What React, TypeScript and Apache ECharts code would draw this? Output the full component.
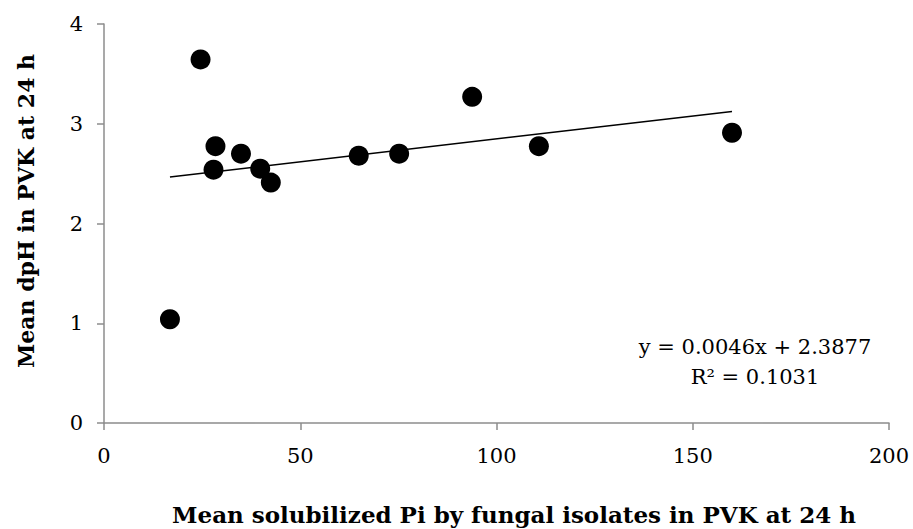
import React, { useEffect, useRef } from "react";
import * as echarts from "echarts";

const xValues = [16.8, 24.6, 27.9, 28.4, 34.9, 39.8, 42.5, 64.9, 75.2, 93.8, 110.8, 160.0];
const yValues = [1.04, 3.645, 2.54, 2.775, 2.70, 2.55, 2.41, 2.68, 2.70, 3.27, 2.775, 2.91];
const slope = 0.0046;
const intercept = 2.3877;
const equationText = "y = 0.0046x + 2.3877";
const r2Text = "R\u00B2 = 0.1031";
const xTitle = "Mean solubilized Pi by fungal isolates in PVK at 24 h";
const yTitle = "Mean dpH in PVK at 24 h";

const FONT = "'DejaVu Serif', 'Liberation Serif', serif";

export default function App() {
  const ref = useRef<HTMLDivElement>(null);
  useEffect(() => {
    if (!ref.current) return;
    const chart = echarts.init(ref.current, null, { renderer: "svg" });
    const points = xValues.map((x, i) => [x, yValues[i]]);
    const xMin = Math.min(...xValues);
    const xMax = Math.max(...xValues);
    const trend = [
      [xMin, slope * xMin + intercept],
      [xMax, slope * xMax + intercept],
    ];
    const axisLineStyle = { color: "#8c8c8c", width: 1.5 };
    chart.setOption({
      animation: false,
      backgroundColor: "#ffffff",
      grid: { left: 104, right: 24, top: 24, bottom: 106, containLabel: false },
      xAxis: {
        type: "value",
        min: 0,
        max: 200,
        interval: 50,
        axisLine: { show: true, lineStyle: axisLineStyle },
        axisTick: { show: true, inside: false, length: 7, lineStyle: axisLineStyle },
        axisLabel: { margin: 22, fontFamily: FONT, fontSize: 21, color: "#000" },
        splitLine: { show: false },
      },
      yAxis: {
        type: "value",
        min: 0,
        max: 4,
        interval: 1,
        axisLine: { show: true, lineStyle: axisLineStyle },
        axisTick: { show: true, inside: false, length: 7, lineStyle: axisLineStyle },
        axisLabel: { margin: 21, fontFamily: FONT, fontSize: 21, color: "#000" },
        splitLine: { show: false },
      },
      series: [
        {
          type: "line",
          data: trend,
          symbol: "none",
          lineStyle: { color: "#000", width: 1.5 },
          z: 1,
        },
        {
          type: "scatter",
          data: points,
          symbol: "circle",
          symbolSize: 20,
          itemStyle: { color: "#000", opacity: 1 },
          z: 2,
        },
      ],
      graphic: [
        {
          type: "text",
          x: 755,
          y: 347,
          style: { text: equationText, fontFamily: FONT, fontSize: 21, fill: "#000", align: "center", verticalAlign: "middle" },
        },
        {
          type: "text",
          x: 755,
          y: 377,
          style: { text: r2Text, fontFamily: FONT, fontSize: 21, fill: "#000", align: "center", verticalAlign: "middle" },
        },
        {
          type: "text",
          x: 514,
          y: 514,
          style: { text: xTitle, fontFamily: FONT, fontWeight: "bold", fontSize: 23, fill: "#000", align: "center", verticalAlign: "middle" },
        },
        {
          type: "text",
          x: 26,
          y: 211,
          rotation: Math.PI / 2,
          style: { text: yTitle, fontFamily: FONT, fontWeight: "bold", fontSize: 22, fill: "#000", align: "center", verticalAlign: "middle" },
        },
      ],
    });
    return () => chart.dispose();
  }, []);
  return (
    <div
      ref={ref}
      style={{ position: "fixed", left: 0, top: 0, width: 913, height: 529, background: "#fff" }}
    />
  );
}
